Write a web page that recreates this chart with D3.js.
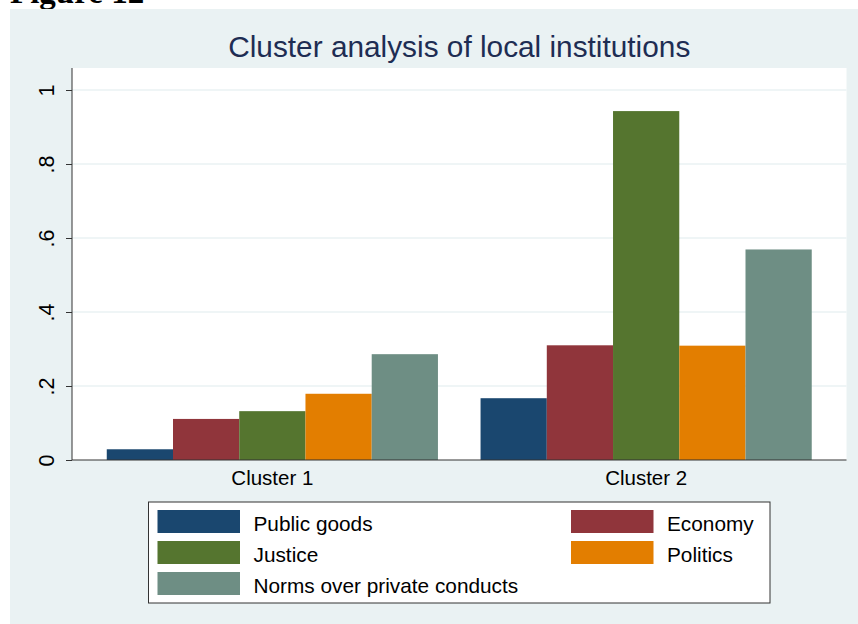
<!DOCTYPE html>
<html>
<head>
<meta charset="utf-8">
<script src="https://cdn.jsdelivr.net/npm/d3@7"></script>
<style>
  body { margin: 0; background: #fff; }
  text { font-family: "Liberation Sans", Arial, sans-serif; }
</style>
</head>
<body>
<div id="chart"></div>
<script>
  // data
  const clusters = ["Cluster 1", "Cluster 2"];
  const seriesNames = ["Public goods", "Economy", "Justice", "Politics", "Norms over private conducts"];
  const seriesColors = ["#1a476f", "#90353b", "#55752f", "#e37e00", "#6e8e84"];
  const cluster1Values = [0.029, 0.111, 0.132, 0.179, 0.286];
  const cluster2Values = [0.167, 0.310, 0.943, 0.309, 0.569];
  const yTicks = [0, 0.2, 0.4, 0.6, 0.8, 1];
  const yTickLabels = ["0", ".2", ".4", ".6", ".8", "1"];

  const valuesByCluster = [cluster1Values, cluster2Values];

  const W = 858, H = 624;
  const plot = {left: 72, right: 846.5, top: 68, bottom: 460};

  const svg = d3.select("#chart").append("svg")
      .attr("width", W)
      .attr("height", H);

  // heading of the page, mostly cut off at top
  svg.append("text")
      .attr("x", 10)
      .attr("y", 3)
      .style("font-family", "'Liberation Serif', 'DejaVu Serif', serif")
      .style("font-weight", "bold")
      .style("font-size", "33px")
      .attr("fill", "#000")
      .text("Figure 12");

  // graph background panel
  svg.append("rect")
      .attr("x", 10)
      .attr("y", 9)
      .attr("width", W - 10)
      .attr("height", H - 9)
      .attr("fill", "#eaf2f3");

  // plot region
  svg.append("rect")
      .attr("x", plot.left)
      .attr("y", plot.top)
      .attr("width", plot.right - plot.left)
      .attr("height", plot.bottom - plot.top)
      .attr("fill", "#fff");

  const x0 = d3.scaleBand()
      .domain(clusters)
      .range([plot.left, plot.right])
      .paddingInner(0.114)
      .paddingOuter(0.093);

  const x1 = d3.scaleBand()
      .domain(seriesNames)
      .range([0, x0.bandwidth()]);

  const y = d3.scaleLinear()
      .domain([0, 1])
      .range([plot.bottom, 90]);

  const color = d3.scaleOrdinal().domain(seriesNames).range(seriesColors);

  // grid lines
  svg.append("g")
      .selectAll("line")
      .data(yTicks.filter(d => d > 0))
      .enter().append("line")
      .attr("x1", plot.left)
      .attr("x2", plot.right)
      .attr("y1", d => y(d))
      .attr("y2", d => y(d))
      .attr("stroke", "#eaf2f3")
      .attr("stroke-width", 1.6);

  // bars
  const groups = svg.append("g")
      .selectAll("g")
      .data(clusters)
      .enter().append("g")
      .attr("transform", d => "translate(" + x0(d) + ",0)");

  groups.selectAll("rect")
      .data((c, i) => seriesNames.map((s, j) => ({series: s, value: valuesByCluster[i][j]})))
      .enter().append("rect")
      .attr("x", d => x1(d.series))
      .attr("width", x1.bandwidth())
      .attr("y", d => y(d.value))
      .attr("height", d => y(0) - y(d.value))
      .attr("fill", d => color(d.series));

  // y axis
  const yAxis = svg.append("g")
      .attr("transform", "translate(" + plot.left + ",0)")
      .call(d3.axisLeft(y)
        .tickValues(yTicks)
        .tickSize(6)
        .tickPadding(0)
        .tickFormat((d, i) => yTickLabels[i]));
  yAxis.select(".domain")
      .attr("d", "M0," + plot.top + "V" + plot.bottom)
      .attr("stroke", "#333");
  yAxis.selectAll(".tick line").attr("stroke", "#333");
  yAxis.selectAll(".tick text")
      .attr("x", 0)
      .attr("y", 0)
      .attr("dy", null)
      .attr("text-anchor", "middle")
      .attr("transform", "translate(-18.5,0) rotate(-90)")
      .style("font-size", "21.5px")
      .style("font-family", "'Liberation Sans', Arial, sans-serif")
      .attr("fill", "#000");

  // x axis
  const xAxis = svg.append("g")
      .attr("transform", "translate(0," + plot.bottom + ")")
      .call(d3.axisBottom(x0).tickSize(0).tickPadding(0));
  xAxis.select(".domain")
      .attr("d", "M" + plot.left + ",0H" + plot.right)
      .attr("stroke", "#333");
  xAxis.selectAll(".tick text")
      .attr("y", 25)
      .attr("dy", null)
      .style("font-size", "20.5px")
      .style("font-family", "'Liberation Sans', Arial, sans-serif")
      .attr("fill", "#000");

  // title
  svg.append("text")
      .attr("x", (plot.left + plot.right) / 2)
      .attr("y", 57)
      .attr("text-anchor", "middle")
      .style("font-size", "29.8px")
      .attr("fill", "#1e2d53")
      .text("Cluster analysis of local institutions");

  // legend
  const legend = svg.append("g");
  legend.append("rect")
      .attr("x", 148.5)
      .attr("y", 502)
      .attr("width", 621.5)
      .attr("height", 101)
      .attr("fill", "#fff")
      .attr("stroke", "#333")
      .attr("stroke-width", 1);

  const legendItems = legend.selectAll("g.item")
      .data(seriesNames)
      .enter().append("g")
      .attr("class", "item")
      .attr("transform", (d, i) => "translate(" + (i % 2 === 0 ? 157.5 : 571) + "," + (510 + Math.floor(i / 2) * 31) + ")");

  legendItems.append("rect")
      .attr("width", 82.5)
      .attr("height", 23)
      .attr("fill", d => color(d));

  legendItems.append("text")
      .attr("x", 96)
      .attr("y", 20.5)
      .style("font-size", "20.8px")
      .attr("fill", "#000")
      .text(d => d);
</script>
</body>
</html>
